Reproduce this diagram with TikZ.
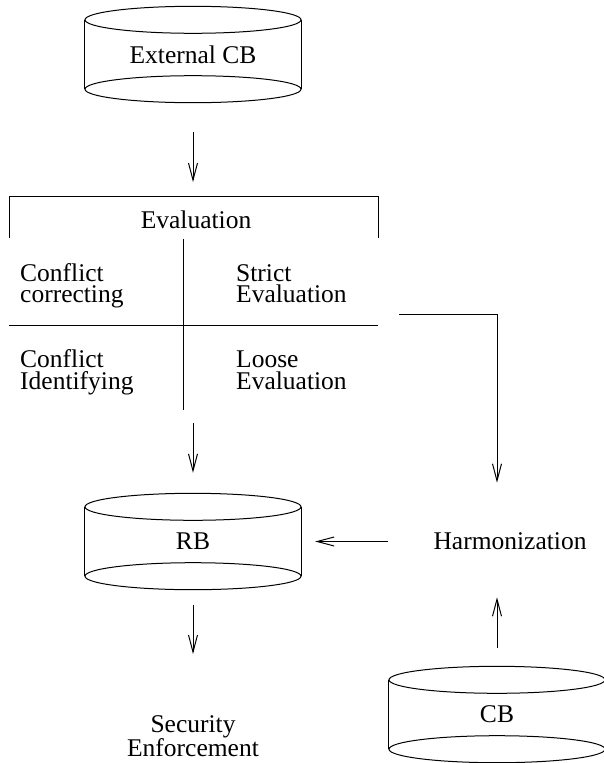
\documentclass[tikz,border=0pt]{standalone}
\usepackage{fontspec}
\setmainfont{Liberation Serif}
\usetikzlibrary{arrows.meta, positioning, calc}

\begin{document}
\begin{tikzpicture}[x=1pt, y=-1pt,
        every node/.style={font=\fontsize{25.5}{21.5}\selectfont, inner sep=0pt},
        dbase/.style={minimum width=216pt, minimum height=96pt},
        cell/.style={align=left, anchor=base west},
        arrow/.style={-{Straight Barb[length=17pt, width=9pt]}, line width=1pt},
        rule/.style={line width=1pt}]
    \useasboundingbox (0,0) rectangle (603,763);

    % Knowledge bases
    \node[dbase] (ecb) at (193,54.5) {External CB};
    \node[dbase] (rb) at (193,541.5) {RB};
    \node[dbase] (cb) at (497,714.5) {CB};
    \foreach \db in {ecb, rb, cb} {
        \draw[rule] ($(\db.north)+(0pt,-13.5pt)$) ellipse [x radius=108pt, y radius=13.5pt];
        \draw[rule] ($(\db.south)+(0pt,13.5pt)$) ellipse [x radius=108pt, y radius=13.5pt];
        \draw[rule] ($(\db.north west)+(0pt,-13.5pt)$) -- ($(\db.south west)+(0pt,13.5pt)$);
        \draw[rule] ($(\db.north east)+(0pt,-13.5pt)$) -- ($(\db.south east)+(0pt,13.5pt)$);
    }

    % Evaluation table
    \node (eval) at (196,220) {Evaluation};
    \coordinate (evtl) at (9,196);
    \coordinate (evtr) at (378,196);
    \draw[rule] (9,238) -- (evtl) -- (evtr) -- (378,238);
    \draw[rule] (183,239) -- (183,410);
    \draw[rule] (9,325) -- (378,325);
    \node[cell] (cc) at (20,302.5) {Conflict\\correcting};
    \node[cell] (se) at (236,302.5) {Strict\\Evaluation};
    \node[cell] (ci) at (20,389) {Conflict\\Identifying};
    \node[cell] (le) at (236,389) {Loose\\Evaluation};

    % Harmonization and output
    \node (harm) at (510,541.5) {Harmonization};
    \node[align=center, anchor=base] (sec) at (193,756.5) {Security\\Enforcement};

    % Connections
    \coordinate (evin) at (193,196);
    \coordinate (evout) at (193,410);
    \coordinate (strict) at (399,314);
    \draw[arrow, shorten <=29.5pt, shorten >=14pt] (ecb) -- (evin);
    \draw[arrow, shorten <=13pt, shorten >=20.5pt] (evout) -- (rb);
    \draw[arrow, shorten >=50pt] (strict) -| (harm.north -| cb.north);
    \draw[arrow, shorten <=45pt, shorten >=14pt] (harm.west) -- (rb.east);
    \draw[arrow, shorten <=18.5pt, shorten >=47pt] (cb.north) -- (harm.south -| cb.north);
    \draw[arrow, shorten <=15.5pt, shorten >=61pt] (rb) -- (sec);

\end{tikzpicture}
\end{document}
